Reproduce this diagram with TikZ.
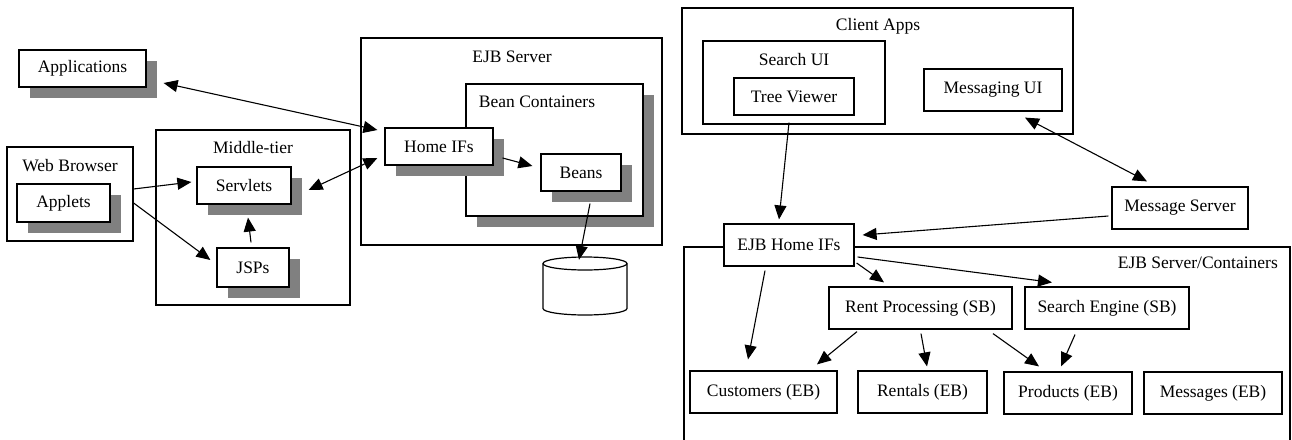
\documentclass[tikz,border=0pt]{standalone}
\usepackage{fontspec}
\setmainfont{Liberation Serif}
\usetikzlibrary{arrows.meta,shadows,calc}
\definecolor{shade}{HTML}{808080}
\begin{document}
\begin{tikzpicture}[x=1pt,y=-1pt,
  every node/.style={font=\fontsize{17.5}{20}\selectfont},
  box/.style={draw, fill=white, line width=1.2pt, inner sep=0pt, align=center},
  shbox/.style={box, drop shadow={shadow xshift=11pt, shadow yshift=-11pt, fill=shade, opacity=1}},
  sz/.style 2 args={minimum width=#1pt, minimum height=#2pt},
  caption/.style={inner sep=0pt},
  tip/.tip={Triangle[length=14pt,width=12pt]},
  arr/.style={-tip, line width=1.1pt},
  darr/.style={tip-tip, line width=1.1pt}]
\useasboundingbox (0,0) rectangle (1292,439);

% ---------- web tier ----------
\node[shbox, sz={127}{37}] (apps) at (82.5,68.5) {Applications};

\node[box, sz={126}{94}] (web) at (70,194) {};
\node[caption] (webl) at (70,166) {Web Browser};
\node[shbox, sz={93}{38}] (applets) at (63.5,203) {Applets};

\node[box, sz={194}{175}] (mid) at (253,217.5) {};
\node[caption] (midl) at (253,148) {Middle-tier};
\node[shbox, sz={94}{37}] (servlets) at (244,185.5) {Servlets};
\node[shbox, sz={72}{39}] (jsps) at (253,267.5) {JSPs};

% ---------- EJB server ----------
\node[box, sz={301}{207}] (ejbs) at (511.5,141.5) {};
\node[caption] (ejbsl) at (512,57) {EJB Server};
\node[shbox, sz={177}{132}] (beanc) at (554.5,150) {};
\node[caption] (beancl) at (537,102) {Bean Containers};
\node[shbox, sz={108}{37}] (home) at (439,146.5) {Home IFs};
\node[shbox, sz={80}{37}] (beans) at (581,172.5) {Beans};

% database
\node[sz={84}{58}, inner sep=0pt] (db) at (585,286) {};
\draw[line width=1.2pt, fill=white] (543,263.5) -- (543,308.5)
  arc[start angle=180, end angle=360, x radius=42pt, y radius=6.5pt] -- (627,263.5);
\draw[line width=1.2pt, fill=white] (585,263.5) ellipse[x radius=42pt, y radius=6.5pt];

% ---------- client side ----------
\node[box, sz={391}{126}] (client) at (877.5,71) {};
\node[caption] (clientl) at (878,26) {Client Apps};
\node[box, sz={182}{83}] (searchui) at (794,82.5) {};
\node[caption] (searchuil) at (794,60) {Search UI};
\node[box, sz={120}{37}] (tree) at (794,96.5) {Tree Viewer};
\node[box, sz={138}{42}] (msgui) at (993,90) {Messaging UI};
\node[box, sz={136}{42}] (msgsrv) at (1180,208) {Message Server};

% ---------- EJB server / containers ----------
\coordinate (cbl) at (684,445);
\coordinate (ctl) at (684,247);
\coordinate (ctr) at (1290,247);
\coordinate (cbr) at (1290,445);
\draw[line width=1.2pt] (cbl) -- (ctl) -- (ctr) -- (cbr);
\node[caption, anchor=east] (cl) at (1278,263) {EJB Server/Containers};
\node[box, sz={130}{42}] (ejbhome) at (789,245) {EJB Home IFs};
\node[box, sz={183}{42}] (rent) at (920.5,308) {Rent Processing (SB)};
\node[box, sz={164}{42}] (search) at (1107,308) {Search Engine (SB)};
\node[box, sz={147}{42}] (cust) at (763.5,392) {Customers (EB)};
\node[box, sz={129}{42}] (rentals) at (922.5,392) {Rentals (EB)};
\node[box, sz={128}{42}] (prod) at (1068,393) {Products (EB)};
\node[box, sz={138}{42}] (msgs) at (1213,393) {Messages (EB)};

% ---------- connectors ----------
\draw[darr] ($(apps.east)+(17,14.5)$) -- ($(home.west)+(-7,-16.5)$);
\draw[darr] ($(servlets.east)+(17,4.5)$) -- ($(home.west)+(-7,11.5)$);
\draw[arr] ($(web.east)+(0,-5)$) -- ($(servlets.west)+(-5,-3.5)$);
\draw[arr] ($(web.east)+(0,9)$) -- ($(jsps.west)+(-6,-7.5)$);
\draw[arr] ($(jsps.north)+(-2,-5)$) -- ($(servlets.south)+(4,13)$);
\draw[arr] ($(home.east)+(9,11.5)$) -- ($(beans.west)+(-8,-6.5)$);
\draw[arr] ($(beans.south)+(9,12)$) -- ($(db.north)+(-6,3)$);

\draw[arr] ($(tree.south)+(-5,7)$) -- ($(ejbhome.north)+(-10,-4)$);
\draw[darr] ($(msgui.south)+(32,6)$) -- ($(msgsrv.north)+(-33,-5)$);
\draw[arr] ($(msgsrv.west)+(-3,8)$) -- ($(ejbhome.east)+(8,-10)$);
\draw[arr] ($(ejbhome.south)+(-24,4)$) -- ($(cust.north)+(-15.5,-11)$);
\draw[arr] ($(ejbhome.east)+(2,18)$) -- ($(rent.north)+(-36.5,-4)$);
\draw[arr] ($(ejbhome.east)+(3,12)$) -- ($(search.north)+(-55,-4)$);
\draw[arr] ($(rent.south)+(-63.5,2)$) -- ($(cust.north)+(53.5,-6)$);
\draw[arr] ($(rent.south)+(0.5,4)$) -- ($(rentals.north)+(4.5,-4)$);
\draw[arr] ($(rent.south)+(72.5,4)$) -- ($(prod.north)+(-29,-5)$);
\draw[arr] ($(search.south)+(-32,5)$) -- ($(prod.north)+(-7,-5)$);
\end{tikzpicture}
\end{document}
